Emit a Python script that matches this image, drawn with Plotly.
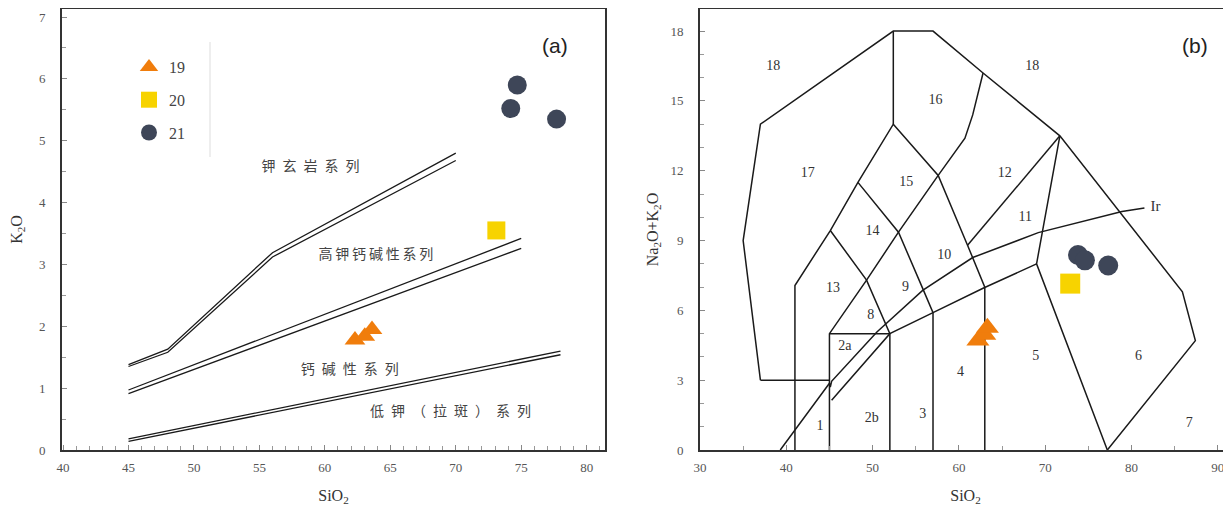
import plotly.graph_objects as go

# ---------------- data: panel (a) K2O vs SiO2 ----------------
A_G19_SIO2 = [62.3, 63.05, 63.6]
A_G19_K2O = [1.78, 1.84, 1.95]
A_G20_SIO2 = [73.1]
A_G20_K2O = [3.55]
A_G21_SIO2 = [74.7, 74.2, 77.7]
A_G21_K2O = [5.90, 5.52, 5.35]

# double boundary lines (two strands each)
SHO_X = [45, 48, 56, 70]
SHO_Y1 = [1.38, 1.63, 3.19, 4.80]
SHO_Y2 = [1.35, 1.58, 3.12, 4.68]
HKCA_X = [45, 75]
HKCA_Y1 = [0.97, 3.42]
HKCA_Y2 = [0.91, 3.26]
CALK_X = [45, 78]
CALK_Y1 = [0.18, 1.60]
CALK_Y2 = [0.14, 1.54]

EN = "\u2002"
TH = "\u2009"
A_LABELS = [EN.join("钾玄岩系列"), TH.join("高钾钙碱性系列"), EN.join("钙碱性系列"),
            EN.join("低钾（拉斑）系列")]
A_LABEL_X = [58.9, 63.9, 61.9, 69.6]
A_LABEL_Y = [4.56, 3.15, 1.29, 0.61]

# ---------------- data: panel (b) TAS ----------------
B_G19_SIO2 = [62.2, 63.0, 63.3]
B_G19_ALK = [4.70, 4.95, 5.25]
B_G20_SIO2 = [72.9]
B_G20_ALK = [7.15]
B_G21_SIO2 = [73.8, 74.6, 77.3]
B_G21_ALK = [8.38, 8.15, 7.93]

TAS_LINES = [
    [(37, 3), (35, 9), (37, 14), (52.4, 18), (57, 18), (62.8, 16.2), (71.7, 13.5),
     (85.9, 6.8), (87.4, 4.7), (77.2, 0)],
    [(37, 3), (45, 3)],
    [(41, 0), (41, 7.07), (45.1, 9.43), (48.3, 11.5), (52.4, 14), (57.6, 11.8),
     (61.0, 8.8), (63, 7.0), (63, 0)],
    [(52.4, 14), (52.4, 18)],
    [(57.6, 11.8), (60.7, 13.4), (61.6, 14.4), (62.8, 16.2)],
    [(61.0, 8.8), (71.7, 13.5)],
    [(71.7, 13.5), (69, 8), (77.2, 0)],
    [(45, 0), (45, 5), (49.3, 7.3), (53, 9.36), (57.6, 11.8)],
    [(45.1, 9.43), (49.3, 7.3), (52, 5), (52, 0)],
    [(48.3, 11.5), (53, 9.36), (55.9, 6.86), (57, 5.9), (57, 0)],
    [(45, 5), (52, 5)],
    [(39.3, 0), (45, 2.87), (45.1, 2.7), (45.25, 2.95), (50.5, 5.07), (55.8, 6.86),
     (61.6, 8.27), (69.2, 9.34), (78.9, 10.25), (81.5, 10.4)],
    [(45.25, 2.14), (52, 5), (57, 5.9), (62.8, 6.95), (69, 8)],
]

FIELD_TEXT = ["18", "18", "16", "17", "15", "12", "14", "11", "10", "13", "9", "8",
              "2a", "4", "5", "6", "2b", "3", "1", "7"]
FIELD_X = [38.5, 68.5, 57.3, 42.5, 53.9, 65.3, 50.0, 67.7, 58.3, 45.4, 53.8, 49.8,
           46.8, 60.2, 68.9, 80.8, 49.9, 55.8, 43.9, 86.7]
FIELD_Y = [16.5, 16.5, 15.0, 11.9, 11.5, 11.9, 9.4, 10.0, 8.36, 6.94, 7.0, 5.8,
           4.46, 3.34, 4.0, 4.0, 1.37, 1.54, 0.99, 1.16]

GROUP_NAMES = ["19", "20", "21"]
ORANGE = "#F07D0C"
YELLOW = "#F7D300"
NAVY = "#3E4658"

SERIF = "Liberation Serif, Times New Roman, serif"
CJK = "Noto Sans CJK SC"

fig = go.Figure()

# ----- panel (a) lines -----
for xs, ys in [(SHO_X, SHO_Y1), (SHO_X, SHO_Y2), (HKCA_X, HKCA_Y1), (HKCA_X, HKCA_Y2),
               (CALK_X, CALK_Y1), (CALK_X, CALK_Y2)]:
    fig.add_trace(go.Scatter(x=xs, y=ys, mode="lines", line=dict(color="#1a1a1a", width=1.3),
                             showlegend=False, hoverinfo="skip", xaxis="x", yaxis="y"))

fig.add_trace(go.Scatter(x=A_LABEL_X, y=A_LABEL_Y, mode="text", text=A_LABELS,
                         textfont=dict(family=CJK, size=14, color="#444"),
                         showlegend=False, hoverinfo="skip", xaxis="x", yaxis="y"))

# ----- panel (a) points -----
fig.add_trace(go.Scatter(x=A_G19_SIO2, y=A_G19_K2O, mode="markers", name=GROUP_NAMES[0],
                         legendgroup="g19",
                         marker=dict(symbol="triangle-up", size=18, color=ORANGE),
                         xaxis="x", yaxis="y"))
fig.add_trace(go.Scatter(x=A_G20_SIO2, y=A_G20_K2O, mode="markers", name=GROUP_NAMES[1],
                         legendgroup="g20",
                         marker=dict(symbol="square", size=18, color=YELLOW),
                         xaxis="x", yaxis="y"))
fig.add_trace(go.Scatter(x=A_G21_SIO2, y=A_G21_K2O, mode="markers", name=GROUP_NAMES[2],
                         legendgroup="g21",
                         marker=dict(symbol="circle", size=19, color=NAVY),
                         xaxis="x", yaxis="y"))

# ----- panel (b) lines -----
for poly in TAS_LINES:
    fig.add_trace(go.Scatter(x=[p[0] for p in poly], y=[p[1] for p in poly], mode="lines",
                             line=dict(color="#1a1a1a", width=1.5),
                             showlegend=False, hoverinfo="skip", xaxis="x2", yaxis="y2"))

fig.add_trace(go.Scatter(x=FIELD_X, y=FIELD_Y, mode="text", text=FIELD_TEXT,
                         textfont=dict(family=SERIF, size=14, color="#333"),
                         showlegend=False, hoverinfo="skip", xaxis="x2", yaxis="y2"))
fig.add_trace(go.Scatter(x=[82.2], y=[10.45], mode="text", text=["Ir"], textposition="middle right",
                         textfont=dict(family=SERIF, size=15, color="#333"),
                         showlegend=False, hoverinfo="skip", xaxis="x2", yaxis="y2"))

fig.add_trace(go.Scatter(x=B_G19_SIO2, y=B_G19_ALK, mode="markers", name=GROUP_NAMES[0],
                         legendgroup="g19", showlegend=False,
                         marker=dict(symbol="triangle-up", size=20, color=ORANGE),
                         xaxis="x2", yaxis="y2"))
fig.add_trace(go.Scatter(x=B_G20_SIO2, y=B_G20_ALK, mode="markers", name=GROUP_NAMES[1],
                         legendgroup="g20", showlegend=False,
                         marker=dict(symbol="square", size=20, color=YELLOW),
                         xaxis="x2", yaxis="y2"))
fig.add_trace(go.Scatter(x=B_G21_SIO2, y=B_G21_ALK, mode="markers", name=GROUP_NAMES[2],
                         legendgroup="g21", showlegend=False,
                         marker=dict(symbol="circle", size=20, color=NAVY),
                         xaxis="x2", yaxis="y2"))

# page body has an 8px default margin, so the figure is drawn 8px in and 8px down
OFF = 8
W, H = 1231 - OFF, 510 - OFF


def px_x(p):
    return (p - OFF) / W


def px_y(p):
    return 1 - (p - OFF) / H


ax_common = dict(showgrid=False, zeroline=False, showline=True, linecolor="#333",
                 linewidth=1.8, ticks="inside", tickcolor="#888", ticklen=5,
                 automargin=False,
                 tickfont=dict(family=SERIF, size=13, color="#555"))

fig.update_layout(
    template="none",
    width=W, height=H,
    margin=dict(l=0, r=0, t=0, b=0, pad=0),
    font=dict(family=SERIF, color="#333"),
    paper_bgcolor="white", plot_bgcolor="white",
    showlegend=True,
    legend=dict(x=px_x(129), y=px_y(50), xanchor="left", yanchor="top",
                font=dict(family=SERIF, size=16, color="#444"),
                tracegroupgap=9, bgcolor="rgba(0,0,0,0)", borderwidth=0,
                itemsizing="trace"),
    xaxis=dict(domain=[px_x(62), px_x(605)], anchor="y", range=[39.92, 81.4],
               tick0=40, dtick=5, mirror=True,
               minor=dict(dtick=1, ticks="inside", ticklen=4, tickcolor="#999"),
               title=dict(text="SiO<sub>2</sub>", font=dict(family=SERIF, size=16, color="#333"),
                          standoff=16),
               ticklabelstandoff=4, **ax_common),
    yaxis=dict(domain=[px_y(450), px_y(9)], anchor="x", range=[0, 7.13],
               tick0=0, dtick=1, mirror=True,
               minor=dict(dtick=0.5, ticks="inside", ticklen=4, tickcolor="#999"),
               title=dict(text="K<sub>2</sub>O", font=dict(family=SERIF, size=16, color="#333"),
                          standoff=13),
               ticklabelstandoff=12, **ax_common),
    xaxis2=dict(domain=[px_x(700), 1.0], anchor="y2", range=[30, 91.53],
                tick0=30, dtick=10, mirror=True,
                minor=dict(dtick=5, ticks="inside", ticklen=4, tickcolor="#999"),
                title=dict(text="SiO<sub>2</sub>", font=dict(family=SERIF, size=16, color="#333"),
                           standoff=16),
                ticklabelstandoff=4, **ax_common),
    yaxis2=dict(domain=[px_y(450), px_y(9)], anchor="x2", range=[0, 18.95],
                tick0=0, dtick=3,
                minor=dict(dtick=1, ticks="inside", ticklen=4, tickcolor="#999"),
                title=dict(text="Na<sub>2</sub>O+K<sub>2</sub>O",
                           font=dict(family=SERIF, size=16, color="#333"), standoff=8),
                ticklabelstandoff=12, **ax_common),
    annotations=[
        dict(text="(a)", x=77.6, y=6.54, xref="x", yref="y", showarrow=False,
             font=dict(family="Liberation Sans", size=21, color="#222")),
        dict(text="(b)", x=87.4, y=17.4, xref="x2", yref="y2", showarrow=False,
             font=dict(family="Liberation Sans", size=21, color="#222")),
    ],
    shapes=[
        dict(type="line", xref="paper", yref="paper", x0=px_x(210), x1=px_x(210),
             y0=px_y(42), y1=px_y(157), line=dict(color="#ddd", width=1)),
    ],
)

fig.write_html("out.html")
